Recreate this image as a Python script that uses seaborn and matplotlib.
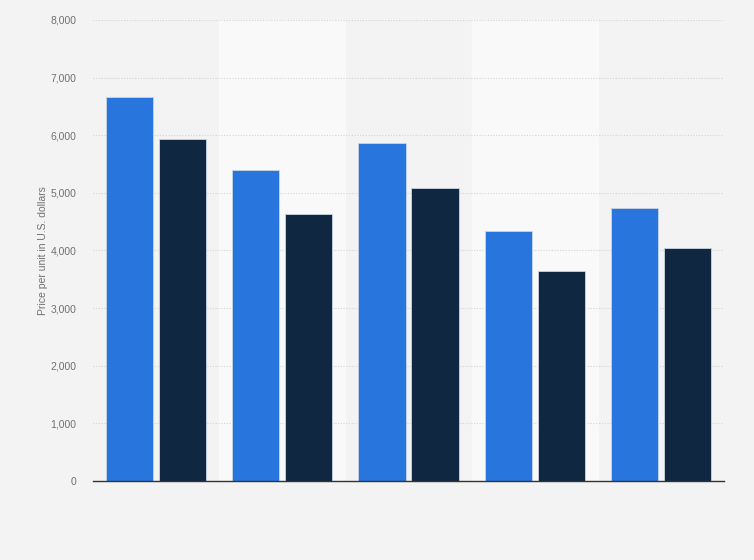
import pandas as pd
import matplotlib
matplotlib.use('Agg')
import matplotlib.pyplot as plt
import seaborn as sns

# values (no category labels shown)
groups = ['1', '2', '3', '4', '5']
series_a = [6670, 5400, 5870, 4340, 4740]
series_b = [5940, 4640, 5090, 3650, 4045]
series_names = ['Series A', 'Series B']
y_ticks = [0, 1000, 2000, 3000, 4000, 5000, 6000, 7000, 8000]

data = pd.DataFrame({
    'group': groups * 2,
    'price': series_a + series_b,
    'series': [series_names[0]] * len(groups) + [series_names[1]] * len(groups),
})

sns.set_style('white')
plt.rcParams['font.family'] = ['Liberation Sans', 'DejaVu Sans']

fig = plt.figure(figsize=(7.54, 5.6), dpi=100, facecolor='#f3f3f3')
ax = fig.add_axes([0.1233, 0.1411, 0.8369, 0.8232])
ax.set_facecolor('#f3f3f3')

# alternating lighter bands
for i in range(len(groups)):
    if i % 2 == 1:
        ax.axvspan(i - 0.5, i + 0.5, color='#f9f9f9', zorder=0)

sns.barplot(data=data, x='group', y='price', hue='series',
            palette=['#2876dd', '#0f2740'], saturation=1, width=0.84, gap=0.11,
            edgecolor='#c9d6e3', linewidth=0.6, legend=False, ax=ax, zorder=3)

ax.set_xlim(-0.5, len(groups) - 0.5)
ax.set_ylim(0, 8000)
ax.set_yticks(y_ticks)
ax.set_yticklabels([f'{v:,}' for v in y_ticks])
ax.yaxis.grid(True, linestyle=(0, (1, 1.5)), color='#d4d4d4', linewidth=0.8, zorder=1)
ax.set_axisbelow(True)

ax.set_xticks(range(len(groups)))
ax.set_xticklabels([])
ax.tick_params(axis='x', length=0)
ax.tick_params(axis='y', length=0, labelsize=7.5, labelcolor='#707070', pad=12)

ax.set_xlabel('')
ax.set_ylabel('Price per unit in U.S. dollars', fontsize=7.5, color='#707070', labelpad=2)

for side in ['top', 'right', 'left']:
    ax.spines[side].set_visible(False)
ax.spines['bottom'].set_color('#333333')
ax.spines['bottom'].set_linewidth(1.0)
ax.spines['bottom'].set_zorder(5)

fig.savefig('out.png', dpi=100, facecolor=fig.get_facecolor())
